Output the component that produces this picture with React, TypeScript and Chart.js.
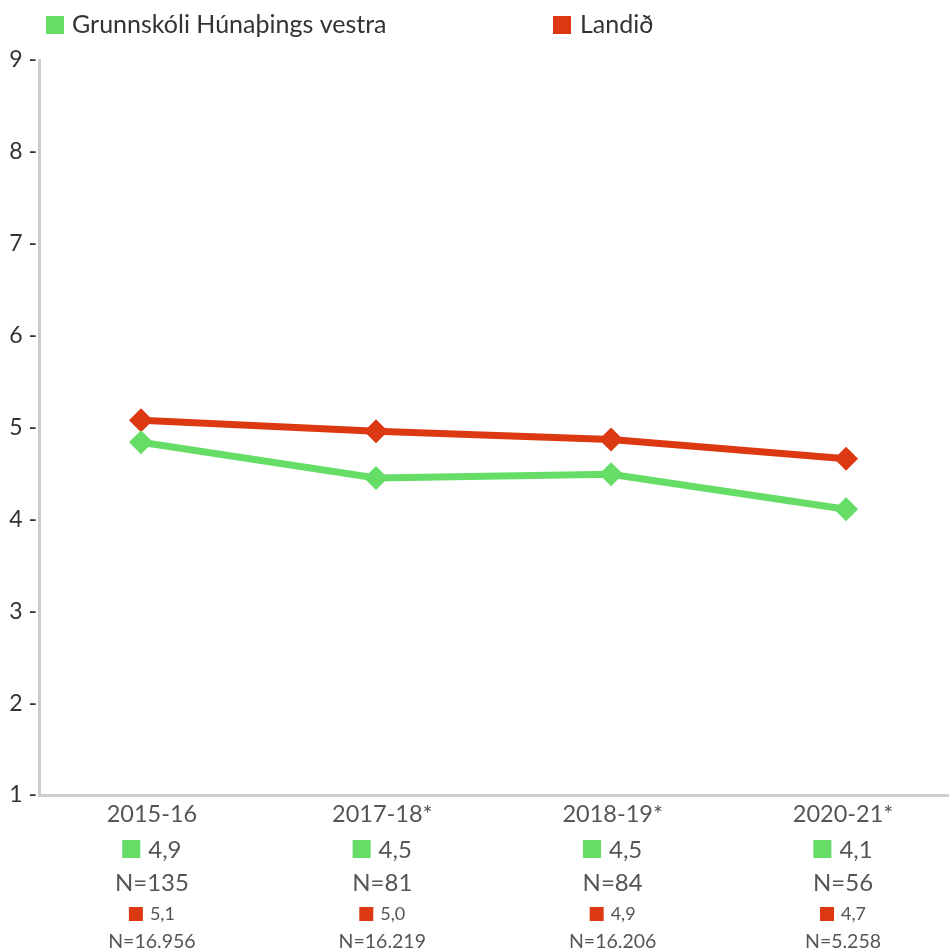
import React, { useEffect, useRef } from 'react';
import { Chart, registerables } from 'chart.js';

Chart.register(...registerables);

const periods = ['2015-16', '2017-18*', '2018-19*', '2020-21*'];
const schoolName = 'Grunnskóli Húnaþings vestra';
const nationalName = 'Landið';
const schoolValues = [4.84, 4.45, 4.49, 4.11];
const nationalValues = [5.08, 4.96, 4.87, 4.66];
const schoolLabels = ['4,9', '4,5', '4,5', '4,1'];
const schoolN = ['N=135', 'N=81', 'N=84', 'N=56'];
const nationalLabels = ['5,1', '5,0', '4,9', '4,7'];
const nationalN = ['N=16.956', 'N=16.219', 'N=16.206', 'N=5.258'];

const GREEN = '#66dd66';
const RED = '#dc3912';
const FONT = 'Lato, "Open Sans", sans-serif';

const overlayPlugin = {
  id: 'overlay',
  afterDraw(chart: any) {
    const ctx = chart.ctx;
    const area = chart.chartArea;
    const xl = chart.scales.xl;
    ctx.save();
    // legend
    ctx.textBaseline = 'middle';
    ctx.textAlign = 'left';
    ctx.font = `25px ${FONT}`;
    ctx.fillStyle = GREEN;
    ctx.fillRect(46, 16, 18, 18);
    ctx.fillStyle = '#333';
    ctx.fillText(schoolName, 72, 25);
    ctx.fillStyle = RED;
    ctx.fillRect(553, 16, 18, 18);
    ctx.fillStyle = '#333';
    ctx.fillText(nationalName, 580, 25);

    // x labels
    periods.forEach((p, i) => {
      const cx = xl.getPixelForValue(i);
      const b = area.bottom;
      ctx.fillStyle = '#555';
      ctx.textAlign = 'center';
      ctx.font = `23.5px ${FONT}`;
      ctx.fillText(p, cx, b + 19);
      ctx.font = `24px ${FONT}`;
      ctx.fillText(schoolN[i], cx, b + 88);
      // green value group
      const w1 = ctx.measureText(schoolLabels[i]).width;
      const g1 = 18 + 8 + w1;
      const s1 = cx - g1 / 2;
      ctx.fillStyle = GREEN;
      ctx.fillRect(s1, b + 45, 18, 18);
      ctx.fillStyle = '#555';
      ctx.textAlign = 'left';
      ctx.fillText(schoolLabels[i], s1 + 26, b + 55);
      // red value group
      ctx.font = `18px ${FONT}`;
      const w2 = ctx.measureText(nationalLabels[i]).width;
      const g2 = 14 + 7 + w2;
      const s2 = cx - g2 / 2;
      ctx.fillStyle = RED;
      ctx.fillRect(s2, b + 112, 14, 14);
      ctx.fillStyle = '#555';
      ctx.fillText(nationalLabels[i], s2 + 21, b + 119);
      ctx.textAlign = 'center';
      ctx.font = `19.5px ${FONT}`;
      ctx.fillText(nationalN[i], cx, b + 147);
    });
    ctx.restore();
  },
};

export default function App() {
  const ref = useRef<HTMLCanvasElement | null>(null);
  useEffect(() => {
    document.body.style.margin = '0';
    const chart = new Chart(ref.current as HTMLCanvasElement, {
      type: 'line',
      data: {
        datasets: [
          {
            label: schoolName,
            data: schoolValues.map((v, i) => ({ x: i, y: v })),
            borderColor: GREEN,
            backgroundColor: GREEN,
            borderWidth: 7,
            pointStyle: 'rectRot',
            pointRadius: 12,
            pointBorderWidth: 0,
            tension: 0,
          },
          {
            label: nationalName,
            data: nationalValues.map((v, i) => ({ x: i, y: v })),
            borderColor: RED,
            backgroundColor: RED,
            borderWidth: 7,
            pointStyle: 'rectRot',
            pointRadius: 12,
            pointBorderWidth: 0,
            tension: 0,
          },
        ],
      },
      options: {
        animation: false,
        responsive: false,
        events: [],
        layout: { autoPadding: false, padding: { top: 60, bottom: 154, left: 0, right: 0 } },
        plugins: { legend: { display: false }, tooltip: { enabled: false } },
        scales: {
          x: {
            type: 'linear',
            min: -0.434,
            max: 3.438,
            ticks: { display: false },
            grid: { display: false, drawTicks: false },
            border: { display: true, color: '#cccccc', width: 3 },
            afterFit: (s: any) => { s.height = 0; },
          },
          xl: {
            type: 'linear',
            display: false,
            min: -0.49,
            max: 3.46,
          },
          y: {
            type: 'linear',
            min: 1,
            max: 9,
            ticks: {
              stepSize: 1,
              padding: 2,
              color: '#333',
              font: { family: FONT, size: 23 },
              callback: (v: any) => `${v} -`,
            },
            grid: { display: false, drawTicks: false },
            border: { display: true, color: '#cccccc', width: 3 },
            afterFit: (s: any) => { s.width = 39; },
          },
        },
      },
      plugins: [overlayPlugin],
    } as any);
    return () => chart.destroy();
  }, []);
  return (
    <div style={{ position: 'absolute', left: 0, top: 0, width: 949, height: 949 }}>
      <canvas ref={ref} width={949} height={949} style={{ width: 949, height: 949 }} />
    </div>
  );
}
